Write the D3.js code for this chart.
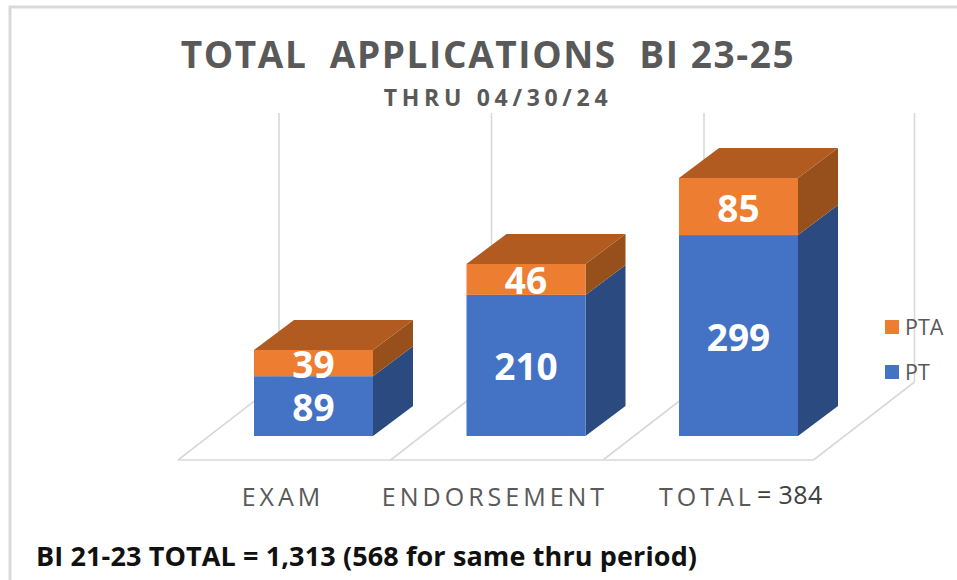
<!DOCTYPE html>
<html><head><meta charset="utf-8">
<script src="https://cdn.jsdelivr.net/npm/d3@7/dist/d3.min.js"></script>
<style>html,body{margin:0;padding:0;background:#fff}svg{display:block}text{font-family:"Open Sans",sans-serif}</style>
</head><body><svg id="c" width="957" height="580"></svg>
<script>
const categories=["EXAM","ENDORSEMENT","TOTAL"];
const seriesNames=["PT","PTA"];
const ptValues=[89,210,299];
const ptaValues=[39,46,85];
const seriesColors={PT:{front:"#4472c4",top:"#3f6ab5",side:"#2a4a80"},PTA:{front:"#ed7d31",top:"#b15b20",side:"#97501c"}};
const titleText="TOTAL  APPLICATIONS  BI 23-25";
const subtitleText="THRU 04/30/24";
const footText="BI 21-23 TOTAL = 1,313 (568 for same thru period)";
const totalNote="= 384";

const svg=d3.select("#c");
const gridC="#d9d9d9";
svg.append("path").attr("d","M10,580V7H957").attr("fill","none").attr("stroke","#d9d9d9").attr("stroke-width",3);

const x=d3.scaleBand().domain(categories).range([178,815.5]).paddingInner(0).paddingOuter(0);
const barPad=76;
const barW=119;
const y=d3.scaleLinear().domain([0,400]).range([436,167.2]);
const dx=40,dy=-30;
const fdx=101,fdy=-78,floorY=460;

const floorPts=[[x.range()[0],floorY],[x.range()[1]-2,floorY]];
const wall=svg.append("g").attr("fill","none").attr("stroke",gridC).attr("stroke-width",1.6);
const gridX=categories.map(c=>x(c)).concat([x.range()[1]-2]);
gridX.forEach(gx=>{
  wall.append("line").attr("x1",gx).attr("y1",floorY).attr("x2",gx+fdx).attr("y2",floorY+fdy);
  wall.append("line").attr("x1",gx+fdx).attr("y1",floorY+fdy).attr("x2",gx+fdx).attr("y2",113);
});
wall.append("line").attr("x1",floorPts[0][0]).attr("y1",floorY).attr("x2",floorPts[1][0]).attr("y2",floorY);

const bars=svg.append("g");
categories.forEach((c,i)=>{
  const x0=x(c)+barPad,x1=x0+barW;
  let base=0;
  [["PT",ptValues[i]],["PTA",ptaValues[i]]].forEach(([s,v])=>{
    const yb=y(base),yt=y(base+v),col=seriesColors[s];
    bars.append("path").attr("d",`M${x1},${yb}L${x1+dx},${yb+dy}L${x1+dx},${yt+dy}L${x1},${yt}Z`).attr("fill",col.side);
    bars.append("rect").attr("x",x0).attr("y",yt).attr("width",barW).attr("height",yb-yt).attr("fill",col.front);
    base+=v;
  });
  const yt=y(base);
  bars.append("path").attr("d",`M${x0},${yt}L${x0+dx},${yt+dy}L${x1+dx},${yt+dy}L${x1},${yt}Z`).attr("fill",seriesColors.PTA.top);
  let b2=0;
  [ptValues[i],ptaValues[i]].forEach(v=>{
    bars.append("text").attr("x",(x0+x1)/2).attr("y",(y(b2)+y(b2+v))/2+15).attr("text-anchor","middle")
      .attr("font-size",37).attr("font-weight",700).attr("fill","#fff").text(v);
    b2+=v;
  });
});

svg.append("text").attr("x",488).attr("y",68).attr("text-anchor","middle").attr("font-size",37).attr("font-weight",700)
  .attr("letter-spacing",1.6).attr("fill","#595959").style("white-space","pre").text(titleText);
svg.append("text").attr("x",498).attr("y",106).attr("text-anchor","middle").attr("font-size",23).attr("font-weight",700)
  .attr("letter-spacing",4.7).attr("fill","#595959").text(subtitleText);

const labelX=[283,495,707];
categories.forEach((c,i)=>{
  svg.append("text").attr("x",labelX[i]).attr("y",506).attr("text-anchor","middle").attr("font-size",25)
   .attr("letter-spacing",4).attr("fill","#595959").text(c);
});
svg.append("text").attr("x",757).attr("y",504).attr("font-size",25).attr("letter-spacing",0.4).attr("fill","#404040").text(totalNote);

const lg=svg.append("g");
[["PTA",327],["PT",372]].forEach(([s,ly])=>{
  lg.append("rect").attr("x",885).attr("y",ly-7).attr("width",14).attr("height",14).attr("fill",seriesColors[s].front);
  lg.append("text").attr("x",905).attr("y",ly+8).attr("font-size",21.5).attr("fill","#595959").text(s);
});

svg.append("text").attr("x",36).attr("y",566).attr("font-size",27).attr("font-weight",700).attr("letter-spacing",0.12).attr("fill","#111").text(footText);
</script></body></html>
